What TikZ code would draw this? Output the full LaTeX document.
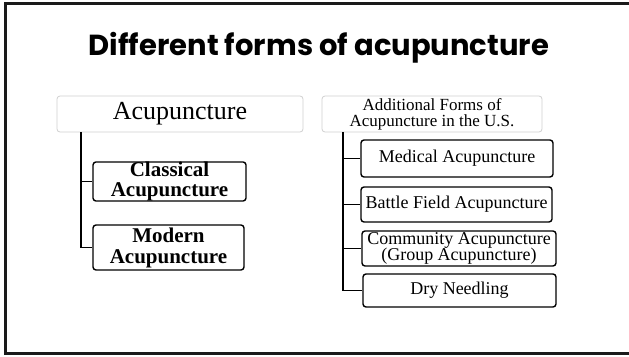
\documentclass[tikz,border=0pt]{standalone}
\usepackage{fontspec}
\setmainfont{Liberation Serif}
\newfontfamily\titlefont{Poppins}
\usetikzlibrary{positioning}
\definecolor{framegray}{HTML}{1A1A1A}
\definecolor{rootline}{HTML}{D0D0D0}

\tikzset{
  rootbox/.style={draw=rootline, line width=0.8pt, rounded corners=3pt, fill=white, align=center, inner sep=0pt},
  leafbox/.style={draw=black, line width=1.4pt, rounded corners=3pt, fill=white, align=center, inner sep=0pt},
  treeline/.style={draw=black, line width=1.8pt}
}

\begin{document}
\begin{tikzpicture}[x=1pt, y=-1pt]
  \useasboundingbox (0,0) rectangle (629,356);
  \fill[white] (0,0) rectangle (629,356);

  % Slide frame (right edge falls off the page)
  \draw[framegray, line width=3pt] (632,3.5) -- (5,3.5) -- (5,353) -- (632,353);

  % Title
  \node[font=\titlefont\bfseries\fontsize{29}{29}\selectfont] (title) at (319,48) {Different forms of acupuncture};

  % Left tree: Acupuncture
  \node[rootbox, minimum width=246pt, minimum height=36pt, font=\fontsize{26}{26}\selectfont] (acu) at (180,114) {Acupuncture};
  \node[leafbox, minimum width=153pt, minimum height=39pt, font=\bfseries\fontsize{21}{20}\selectfont] (classical) at (169.5,181.5) {Classical\\Acupuncture};
  \node[leafbox, minimum width=151pt, minimum height=45pt, font=\bfseries\fontsize{21}{21}\selectfont] (modern) at (168.5,247.5) {Modern\\Acupuncture};
  \coordinate (trunkL) at (81,132);
  \draw[treeline] (trunkL) |- (classical.west);
  \draw[treeline] (trunkL) |- (modern.west);

  % Right tree: additional forms in the U.S.
  \node[rootbox, minimum width=220pt, minimum height=36pt, font=\fontsize{17}{16}\selectfont] (extra) at (432,114) {Additional Forms of\\Acupuncture in the U.S.};
  \node[leafbox, minimum width=192pt, minimum height=37pt, font=\fontsize{18}{17}\selectfont] (medical) at (457,158.5) {Medical Acupuncture};
  \node[leafbox, minimum width=191pt, minimum height=35pt, font=\fontsize{18}{17}\selectfont] (battle) at (456.5,204.5) {Battle Field Acupuncture};
  \node[leafbox, minimum width=194pt, minimum height=35pt, font=\fontsize{18}{16.5}\selectfont] (community) at (459,248.5) {Community Acupuncture\\(Group Acupuncture)};
  \node[leafbox, minimum width=193pt, minimum height=33pt, font=\fontsize{18}{17}\selectfont] (dry) at (459.5,290.5) {Dry Needling};
  \coordinate (trunkR) at (343,132);
  \foreach \leaf in {medical, battle, community, dry}
    \draw[treeline] (trunkR) |- (\leaf.west);
\end{tikzpicture}
\end{document}
